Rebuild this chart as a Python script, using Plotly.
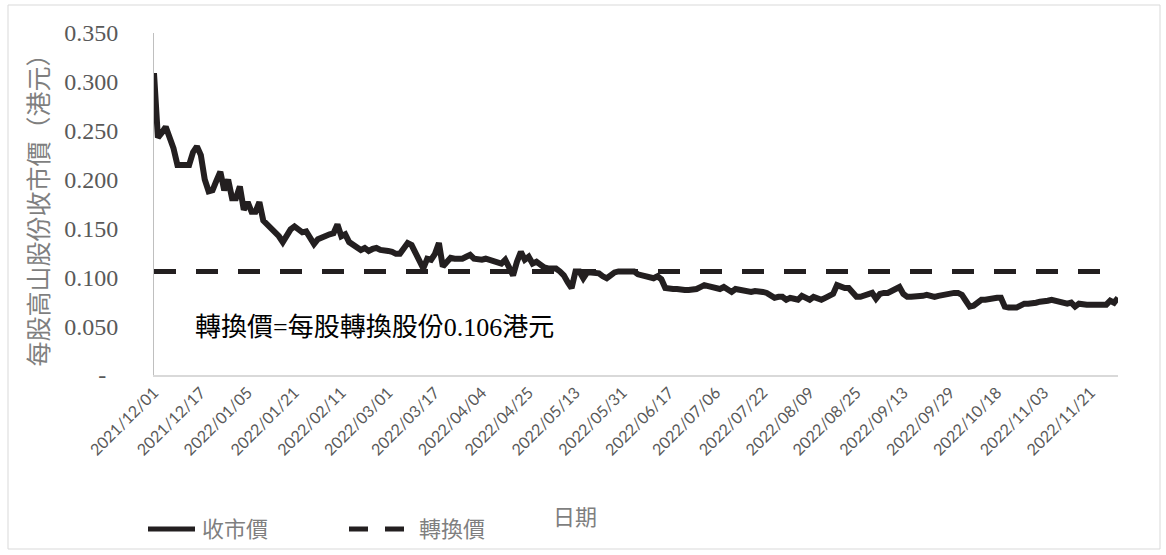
import plotly.graph_objects as go

# Daily closing price (HKD) per trading day, 2021/12/01 - 2022/11/30
close_price = [
    0.309, 0.243, 0.248, 0.254, 0.243, 0.232, 0.215, 0.215, 0.215, 0.215,
    0.228, 0.234, 0.225, 0.200, 0.188, 0.189, 0.199, 0.208, 0.189, 0.200,
    0.181, 0.181, 0.193, 0.169, 0.177, 0.167, 0.167, 0.177, 0.158, 0.154,
    0.152, 0.148, 0.142, 0.136, 0.142, 0.149, 0.152, 0.148, 0.146, 0.147,
    0.140, 0.134, 0.139, 0.141, 0.143, 0.144, 0.145, 0.154, 0.142, 0.144,
    0.136, 0.133, 0.130, 0.128, 0.130, 0.127, 0.129, 0.130, 0.128, 0.128,
    0.127, 0.126, 0.124, 0.124, 0.131, 0.135, 0.133, 0.125, 0.117, 0.109,
    0.119, 0.118, 0.124, 0.135, 0.111, 0.116, 0.120, 0.119, 0.119, 0.119,
    0.121, 0.123, 0.119, 0.118, 0.118, 0.119, 0.118, 0.116, 0.115, 0.114,
    0.118, 0.110, 0.102, 0.116, 0.126, 0.118, 0.121, 0.114, 0.116, 0.113,
    0.110, 0.109, 0.109, 0.109, 0.106, 0.102, 0.095, 0.089, 0.106, 0.106,
    0.099, 0.105, 0.105, 0.104, 0.104, 0.101, 0.099, 0.102, 0.105, 0.106,
    0.106, 0.106, 0.106, 0.106, 0.103, 0.102, 0.101, 0.100, 0.099, 0.101,
    0.098, 0.089, 0.088, 0.088, 0.088, 0.087, 0.087, 0.087, 0.087, 0.088,
    0.090, 0.092, 0.091, 0.090, 0.090, 0.088, 0.090, 0.087, 0.085, 0.088,
    0.087, 0.086, 0.085, 0.085, 0.086, 0.086, 0.085, 0.084, 0.081, 0.079,
    0.080, 0.080, 0.077, 0.079, 0.078, 0.077, 0.081, 0.079, 0.077, 0.080,
    0.078, 0.077, 0.079, 0.081, 0.083, 0.092, 0.090, 0.089, 0.089, 0.084,
    0.080, 0.080, 0.081, 0.083, 0.084, 0.078, 0.083, 0.084, 0.084, 0.086,
    0.088, 0.090, 0.083, 0.080, 0.080, 0.080, 0.081, 0.081, 0.082, 0.081,
    0.080, 0.081, 0.082, 0.083, 0.083, 0.084, 0.084, 0.082, 0.076, 0.070,
    0.071, 0.074, 0.077, 0.077, 0.078, 0.079, 0.079, 0.079, 0.070, 0.069,
    0.069, 0.069, 0.071, 0.073, 0.073, 0.073, 0.074, 0.075, 0.075, 0.076,
    0.077, 0.076, 0.075, 0.074, 0.073, 0.074, 0.070, 0.073, 0.072, 0.072,
    0.072, 0.072, 0.072, 0.072, 0.072, 0.076, 0.074, 0.079,
]

conversion_price = 0.106

# Category tick labels (every 12th trading day)
tick_labels = [
    "2021/12/01", "2021/12/17", "2022/01/05", "2022/01/21", "2022/02/11",
    "2022/03/01", "2022/03/17", "2022/04/04", "2022/04/25", "2022/05/13",
    "2022/05/31", "2022/06/17", "2022/07/06", "2022/07/22", "2022/08/09",
    "2022/08/25", "2022/09/13", "2022/09/29", "2022/10/18", "2022/11/03",
    "2022/11/21",
]
tick_step = 12

y_ticks = [0, 0.05, 0.10, 0.15, 0.20, 0.25, 0.30, 0.35]
y_ticktext = ["-\u2002", "0.050", "0.100", "0.150", "0.200", "0.250", "0.300", "0.350"]

n = len(close_price)
x_idx = list(range(n))
tick_idx = [i * tick_step for i in range(len(tick_labels))]

CJK = "Liberation Serif, Noto Sans CJK TC, serif"
GRAY = "#595959"

fig = go.Figure()
fig.add_trace(go.Scatter(
    x=x_idx, y=close_price, mode="lines", name="收市價",
    line=dict(color="#231f20", width=6), showlegend=False,
))
fig.add_trace(go.Scatter(
    x=x_idx, y=[conversion_price] * n, mode="lines", name="轉換價",
    line=dict(color="#231f20", width=5, dash="22px,20px"), showlegend=False,
))

L, R, T, B = 154, 48, 33, 180
W, H = 1166, 555
pw, ph = W - L - R, H - T - B


def px(xp):
    return (xp - L) / pw


def py(yp):
    return (H - B - yp) / ph


shapes = [
    # outer chart border
    dict(type="rect", xref="paper", yref="paper",
         x0=px(8), x1=px(1160), y0=py(549), y1=py(5),
         line=dict(color="#d9d9d9", width=1), layer="below"),
    # legend samples
    dict(type="line", xref="paper", yref="paper",
         x0=px(148), x1=px(195), y0=py(529), y1=py(529),
         line=dict(color="#231f20", width=5)),
    dict(type="line", xref="paper", yref="paper",
         x0=px(349), x1=px(404), y0=py(529), y1=py(529),
         line=dict(color="#231f20", width=5, dash="19px,17px")),
]

annotations = [
    dict(text="轉換價=每股轉換股份0.106港元", xref="paper", yref="paper",
         x=px(193), y=py(327), xanchor="left", yanchor="middle",
         showarrow=False, font=dict(family=CJK, size=26, color="#000000")),
    dict(text="收市價", xref="paper", yref="paper",
         x=px(200), y=py(529), xanchor="left", yanchor="middle",
         showarrow=False, font=dict(family=CJK, size=22, color="#7f7f7f")),
    dict(text="轉換價", xref="paper", yref="paper",
         x=px(417), y=py(529), xanchor="left", yanchor="middle",
         showarrow=False, font=dict(family=CJK, size=22, color="#7f7f7f")),
    dict(text="日期", xref="paper", yref="paper",
         x=px(575), y=py(517), xanchor="center", yanchor="middle",
         showarrow=False, font=dict(family=CJK, size=22, color="#7f7f7f")),
]

fig.update_layout(
    width=W, height=H,
    margin=dict(l=L, r=R, t=T, b=B, autoexpand=False),
    paper_bgcolor="white", plot_bgcolor="white",
    showlegend=False,
    shapes=shapes, annotations=annotations,
    xaxis=dict(
        range=[0, n - 1], tickmode="array", tickvals=tick_idx, ticktext=tick_labels,
        tickangle=-45, tickfont=dict(family="Lato, Open Sans, sans-serif", size=16, color=GRAY),
        showgrid=False, zeroline=False, showline=True, linecolor="#d9d9d9", linewidth=2,
        ticks="", automargin=False,
    ),
    yaxis=dict(
        range=[0, 0.35], tickmode="array", tickvals=y_ticks, ticktext=y_ticktext,
        tickfont=dict(family="Liberation Serif, serif", size=24, color=GRAY),
        showgrid=False, zeroline=False, showline=True, linecolor="#bfbfbf", linewidth=1,
        ticks="outside", ticklen=30, tickcolor="rgba(0,0,0,0)", automargin=False,
        title=dict(text="每股高山股份收市價（港元）",
                   font=dict(family=CJK, size=25, color="#7f7f7f"), standoff=8),
    ),
)

fig.write_html("out.html")
